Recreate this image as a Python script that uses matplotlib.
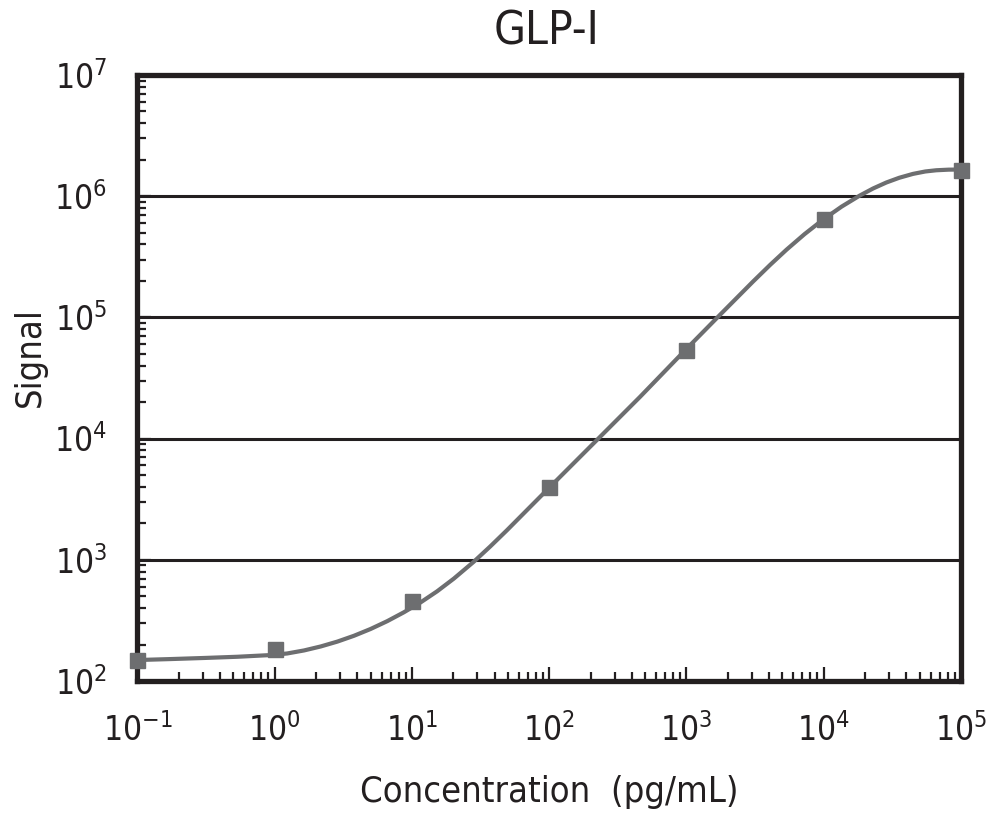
import matplotlib
matplotlib.use("Agg")
import matplotlib.pyplot as plt
from matplotlib.ticker import LogLocator, FixedLocator, NullFormatter

plt.rcParams['font.family'] = ['DejaVu Sans']
plt.rcParams['font.stretch'] = 'condensed'
plt.rcParams['mathtext.default'] = 'regular'

# measured standards
conc = [0.1, 1, 10, 100, 1000, 10000, 100000]
signal = [149, 182, 459, 4000, 53600, 652000, 1630000]

# fitted curve (log10 values)
curve_logx = [-1.0, -0.758, -0.515, -0.272, -0.030, 0.090, 0.213, 0.335, 0.456, 0.577,
              0.698, 0.820, 0.941, 1.062, 1.183, 1.305, 1.448, 1.570, 1.691, 2.006,
              2.346, 2.662, 2.990, 3.243, 3.485, 3.610, 3.729, 3.860, 3.995, 4.130,
              4.262, 4.360, 4.456, 4.550, 4.650, 4.740, 4.820, 4.910, 5.0]
curve_logy = [2.173, 2.181, 2.190, 2.200, 2.214, 2.227, 2.252, 2.285, 2.325, 2.373,
              2.429, 2.494, 2.567, 2.648, 2.740, 2.845, 2.982, 3.110, 3.243, 3.602,
              3.987, 4.345, 4.729, 5.020, 5.296, 5.434, 5.559, 5.687, 5.807, 5.914,
              6.005, 6.064, 6.113, 6.152, 6.184, 6.204, 6.214, 6.219, 6.220]

x_ticks = [1e-1, 1e0, 1e1, 1e2, 1e3, 1e4, 1e5]
x_labels = ['-1', '0', '1', '2', '3', '4', '5']
y_ticks = [1e2, 1e3, 1e4, 1e5, 1e6, 1e7]
y_labels = ['2', '3', '4', '5', '6', '7']

ink = '#231f20'
gray = '#6d6e70'

fig = plt.figure(figsize=(9.87, 8.23), dpi=100)
ax = fig.add_axes([137.5/987, 1-681/823, (961-137.5)/987, (681-75)/823])
ax.set_xscale('log')
ax.set_yscale('log')
ax.set_xlim(x_ticks[0], x_ticks[-1])
ax.set_ylim(y_ticks[0], y_ticks[-1])

for yv in y_ticks[1:-1]:
    ax.axhline(yv, color=ink, lw=2.2, zorder=1)

ax.plot([10**v for v in curve_logx], [10**v for v in curve_logy], color=gray, lw=3.0,
        solid_capstyle='round', solid_joinstyle='round', zorder=3, clip_on=False)
ax.plot(conc, signal, linestyle='none', marker='s', markersize=10.8, color=gray,
        zorder=5, clip_on=False)

for s in ax.spines.values():
    s.set_linewidth(3.8)
    s.set_color(ink)
    s.set_zorder(4)

ax.xaxis.set_major_locator(FixedLocator(x_ticks))
ax.yaxis.set_major_locator(FixedLocator(y_ticks))
ax.set_xticklabels([r'$10^{%s}$' % l for l in x_labels])
ax.set_yticklabels([r'$10^{%s}$' % l for l in y_labels])
ax.xaxis.set_minor_locator(LogLocator(base=10, subs=range(2, 10), numticks=20))
ax.yaxis.set_minor_locator(LogLocator(base=10, subs=range(2, 10), numticks=20))
ax.xaxis.set_minor_formatter(NullFormatter())
ax.yaxis.set_minor_formatter(NullFormatter())
ax.tick_params(which='major', direction='in', length=10, width=1.6, color=ink,
               labelsize=24, pad=23, top=False, right=False, labelcolor=ink)
ax.tick_params(which='minor', direction='in', length=6.5, width=1.6, color=ink,
               top=False, right=False)
ax.tick_params(axis='y', which='major', pad=22)

fig.text(547/987, 1-32/823, 'GLP-I', ha='center', va='center', fontsize=33, color=ink)
fig.text(549/987, 1-792/823, 'Concentration  (pg/mL)', ha='center', va='center',
         fontsize=26, color=ink)
fig.text(30/987, 1-357/823, 'Signal', ha='center', va='center', rotation=90,
         fontsize=26, color=ink)

fig.savefig('out.png', dpi=100)
